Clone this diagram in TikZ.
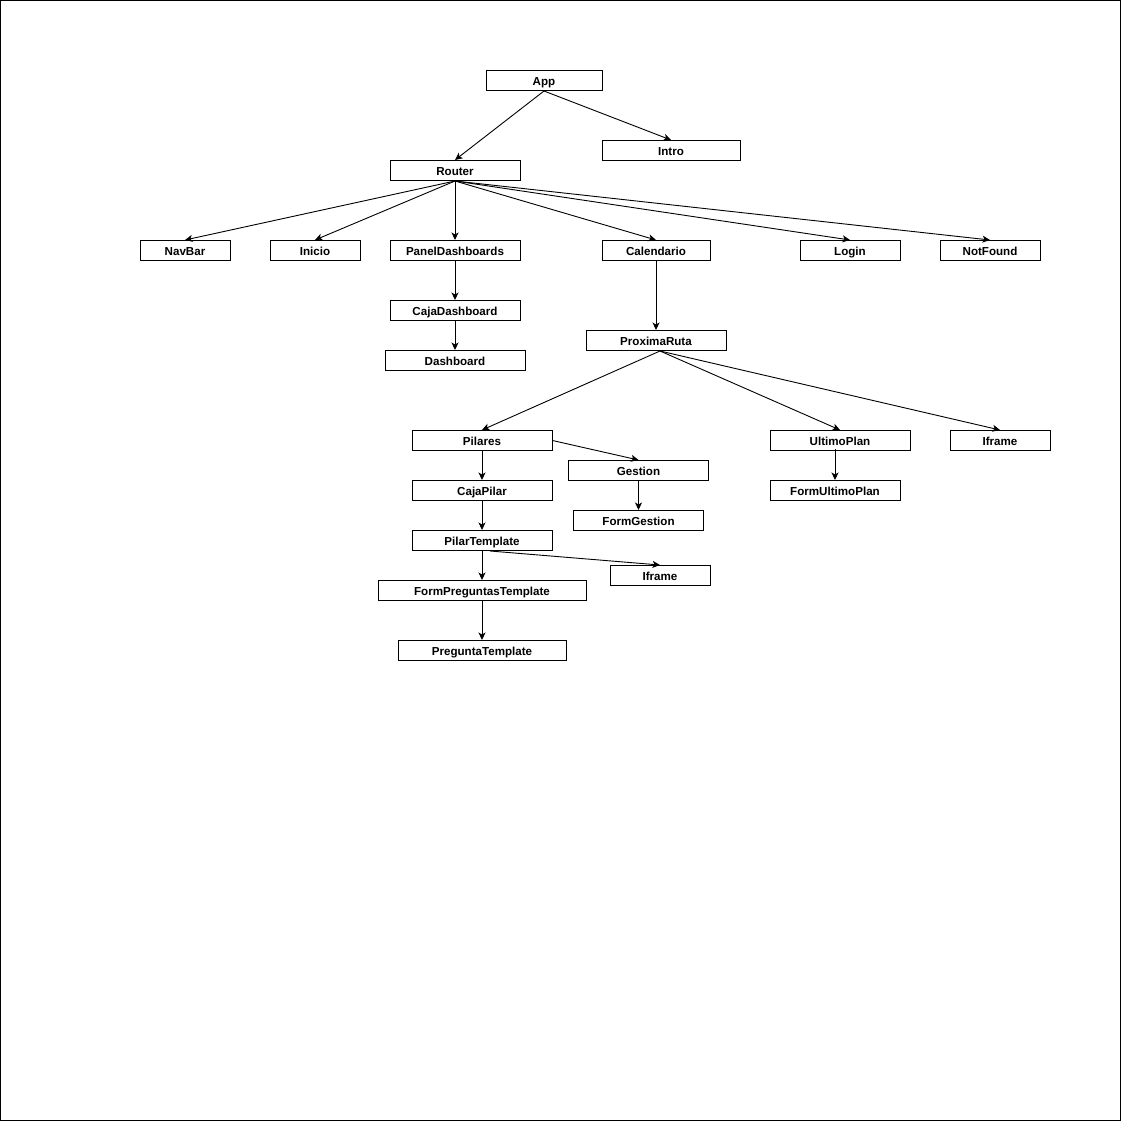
\documentclass[tikz,border=0pt]{standalone}
\usepackage{fontspec}
\setmainfont{Liberation Sans}
\usetikzlibrary{arrows.meta}
\begin{document}
\begin{tikzpicture}[x=1pt,y=-1pt,
  comp/.style={draw=black,line width=1pt,inner sep=0pt,text height=10.5pt,text depth=0.5pt,font=\fontsize{11.6}{12}\selectfont\bfseries,fill=white},
  link/.style={draw=black,line width=0.9pt,-{Stealth[length=7.5pt,width=7pt,inset=2pt]}}]
\useasboundingbox (0,0) rectangle (1121,1121);
\draw[line width=1pt] (0.5,0.5) rectangle (1120.5,1120.5);
% boxes: center, width, height
\newcommand{\comp}[5]{\node[comp,minimum width=#4pt,minimum height=#5pt] (#1) at (#2) {#3};}
\comp{app}{544,80.5}{App}{116}{20}
\comp{intro}{671,150.5}{Intro}{138}{20}
\comp{router}{455,170.5}{Router}{130}{20}
\comp{navbar}{185,250.5}{NavBar}{90}{20}
\comp{inicio}{315,250.5}{Inicio}{90}{20}
\comp{panel}{455,250.5}{PanelDashboards}{130}{20}
\comp{cal}{656,250.5}{Calendario}{108}{20}
\comp{login}{850,250.5}{Login}{100}{20}
\comp{notfound}{990,250.5}{NotFound}{100}{20}
\comp{cajadash}{455,310.5}{CajaDashboard}{130}{20}
\comp{dash}{455,360.5}{Dashboard}{140}{20}
\comp{prox}{656,340.5}{ProximaRuta}{140}{20}
\comp{pilares}{482,440.5}{Pilares}{140}{20}
\comp{gestion}{638.5,470.5}{Gestion}{140}{20}
\comp{cajapilar}{482,490.5}{CajaPilar}{140}{20}
\comp{formgestion}{638.5,520.5}{FormGestion}{130}{20}
\comp{pilartpl}{482,540.5}{PilarTemplate}{140}{20}
\comp{iframeb}{660,575.5}{Iframe}{100}{20}
\comp{formpreg}{482,590.5}{FormPreguntasTemplate}{208}{20}
\comp{pregtpl}{482,650.5}{PreguntaTemplate}{168}{20}
\comp{ultimo}{840,440.5}{UltimoPlan}{140}{20}
\comp{iframea}{1000,440.5}{Iframe}{100}{20}
\comp{formultimo}{835,490.5}{FormUltimoPlan}{130}{20}
% connectors
\draw[link] (app.south) -- (router.north);
\draw[link] (app.south) -- (intro.north);
\draw[link] (router.south) -- (navbar.north);
\draw[link] (router.south) -- (inicio.north);
\draw[link] (router.south) -- (panel.north);
\draw[link] (router.south) -- (cal.north);
\draw[link] (router.south) -- (login.north);
\draw[link] (router.south) -- (notfound.north);
\draw[link] (panel.south) -- (cajadash.north);
\draw[link] (cajadash.south) -- (dash.north);
\draw[link] (cal.south) -- (prox.north);
\draw[link] ([xshift=4pt]prox.south) -- (pilares.north);
\draw[link] ([xshift=4pt]prox.south) -- (ultimo.north);
\draw[link] ([xshift=4pt]prox.south) -- (iframea.north);
\draw[link] (pilares.east) -- (gestion.north);
\draw[link] (pilares.south) -- (cajapilar.north);
\draw[link] (cajapilar.south) -- (pilartpl.north);
\draw[link] (pilartpl.south) -- (formpreg.north);
\draw[link] (formpreg.south) -- (pregtpl.north);
\draw[link] ([xshift=8pt]pilartpl.south) -- (iframeb.north);
\draw[link] (gestion.south) -- (formgestion.north);
\draw[link] ([xshift=-5pt,yshift=2pt]ultimo.south) -- (formultimo.north);
\end{tikzpicture}
\end{document}
